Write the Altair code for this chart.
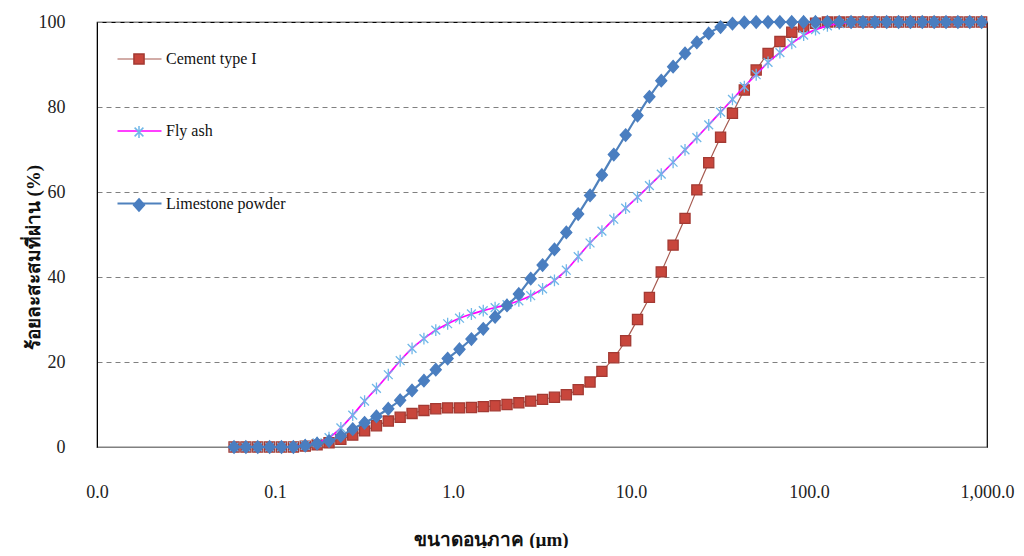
import altair as alt
import pandas as pd

# particle size grid (µm)
sizes_um = [0.05888, 0.06865, 0.08004, 0.09332, 0.1088, 0.1269, 0.1479, 0.1724,
            0.2011, 0.2344, 0.2733, 0.3186, 0.3715, 0.4331, 0.5050, 0.5888,
            0.6865, 0.8004, 0.9332, 1.088, 1.269, 1.479, 1.724, 2.011,
            2.344, 2.733, 3.186, 3.715, 4.331, 5.050, 5.888, 6.865,
            8.004, 9.332, 10.88, 12.69, 14.79, 17.24, 20.11, 23.44,
            27.33, 31.86, 37.15, 43.31, 50.50, 58.88, 68.65, 80.04,
            93.32, 108.8, 126.9, 147.9, 172.4, 201.1, 234.4, 273.3,
            318.6, 371.5, 433.1, 505.0, 588.8, 686.5, 800.4, 933.2]

cement = [0, 0, 0, 0, 0, 0, 0.2, 0.5,
          1.0, 1.8, 2.8, 3.8, 5.0, 6.1, 7.0, 7.9,
          8.6, 9.0, 9.2, 9.2, 9.3, 9.5, 9.7, 10.0,
          10.4, 10.8, 11.2, 11.7, 12.3, 13.5, 15.3, 17.8,
          21.0, 25.0, 30.0, 35.2, 41.2, 47.5, 53.8, 60.5,
          66.9, 72.9, 78.5, 84.0, 88.7, 92.6, 95.4, 97.6,
          98.9, 99.7, 100, 100, 100, 100, 100, 100,
          100, 100, 100, 100, 100, 100, 100, 100]

fly_ash = [0, 0, 0, 0, 0, 0.1, 0.4, 1.0,
           2.2, 4.5, 7.5, 10.8, 13.8, 17.0, 20.3, 23.2,
           25.5, 27.5, 29.0, 30.3, 31.3, 32.1, 32.8, 33.5,
           34.4, 35.6, 37.2, 39.2, 41.6, 44.8, 48.0, 50.8,
           53.6, 56.2, 58.8, 61.5, 64.2, 67.0, 69.9, 72.8,
           75.8, 78.8, 81.8, 84.8, 87.6, 90.5, 92.8, 95.0,
           96.9, 98.2, 99.1, 99.6, 99.9, 100, 100, 100,
           100, 100, 100, 100, 100, 100, 100, 100]

limestone = [0, 0, 0, 0, 0, 0, 0.3, 0.8,
             1.4, 2.6, 4.2, 5.7, 7.2, 9.0, 11.0, 13.3,
             15.6, 18.2, 20.8, 23.0, 25.4, 27.8, 30.6, 33.3,
             36.0, 39.6, 42.8, 46.5, 50.5, 54.8, 59.2, 64.0,
             68.8, 73.4, 78.0, 82.4, 86.2, 89.5, 92.6, 95.2,
             97.3, 98.8, 99.6, 99.9, 100, 100, 100, 100,
             100, 100, 100, 100, 100, 100, 100, 100,
             100, 100, 100, 100, 100, 100, 100, 100]

series_names = ["Cement type I", "Fly ash", "Limestone powder"]
marker_names = ["Cement type I ", "Fly ash ", "Limestone powder "]
x_ticks = [0.01, 0.1, 1, 10, 100, 1000]
y_ticks = [0, 20, 40, 60, 80, 100]

line_colors = ["#A65A50", "#FF00FF", "#4F81BD"]
line_widths = [1.2, 2.2, 3.2]
marker_fill = ["#C8463C", "#6FB7E8", "#4A7EC0"]
marker_stroke = ["#A33A33", "#6FB7E8", "#4A7EC0"]
marker_paths = [
    "M-0.23,-0.23H0.23V0.23H-0.23Z",
    "M-0.2,-0.2L0.2,0.2M-0.2,0.2L0.2,-0.2M0,-0.27L0,0.27",
    "M0,-0.28L0.25,0L0,0.28L-0.25,0Z",
]

rows = []
for name, mname, vals in zip(series_names, marker_names, [cement, fly_ash, limestone]):
    for d, v in zip(sizes_um, vals):
        rows.append({"size": d, "pct": v, "series": name, "marker": mname})
df = pd.DataFrame(rows)

SERIF = "Liberation Serif"
SYM = 1936
LX, LY, RP = 19, 14, 41

x_enc = alt.X("size:Q",
              scale=alt.Scale(type="log", domain=[0.01, 1000], nice=False),
              axis=alt.Axis(values=x_ticks, format=",.1f", title="ขนาดอนุภาค (µm)",
                            grid=False, ticks=False, labelPadding=36, labelFlush=False,
                            labelOverlap=False, domainColor="#808080",
                            labelFont=SERIF, labelFontSize=18, labelColor="#222",
                            titleFont=SERIF, titleFontSize=19, titleFontWeight="bold",
                            titleColor="#111", titleX=394, titleY=92,
                            titleBaseline="middle", titleAnchor="start", titleAlign="center"))
y_enc = alt.Y("pct:Q",
              scale=alt.Scale(domain=[0, 100], nice=False),
              axis=alt.Axis(values=y_ticks, title="ร้อยละสะสมที่ผ่าน (%)",
                            grid=True, gridDash=[5, 4], gridColor="#808080",
                            ticks=False, labelPadding=32, domainColor="#000",
                            labelFont=SERIF, labelFontSize=18, labelColor="#222",
                            titleFont=SERIF, titleFontSize=19, titleFontWeight="bold",
                            titleColor="#111", titleX=-64, titleY=235,
                            titleBaseline="middle", titleAnchor="start", titleAlign="center"))

line_legend = alt.Legend(title=None, orient="none", legendX=LX, legendY=LY,
                         symbolType="stroke", symbolSize=SYM, rowPadding=RP,
                         labelFont=SERIF, labelFontSize=16, labelColor="#111",
                         labelOffset=3, padding=0)
marker_legend = alt.Legend(title=None, orient="none", legendX=LX, legendY=LY,
                           symbolSize=SYM, rowPadding=RP,
                           labelFont=SERIF, labelFontSize=16, labelColor="transparent",
                           labelOffset=3, padding=0)

layers = []
for name, mname in zip(series_names, marker_names):
    base = alt.Chart(df).transform_filter(alt.datum.series == name)
    line = base.mark_line(interpolate="monotone").encode(
        x=x_enc, y=y_enc,
        color=alt.Color("series:N", scale=alt.Scale(domain=series_names, range=line_colors),
                        legend=line_legend),
        strokeWidth=alt.StrokeWidth("series:N",
                                    scale=alt.Scale(domain=series_names, range=line_widths),
                                    legend=line_legend),
    )
    pts = base.mark_point(filled=True, size=SYM, opacity=1, strokeWidth=1.3).encode(
        x=x_enc, y=y_enc,
        fill=alt.Fill("marker:N", scale=alt.Scale(domain=marker_names, range=marker_fill),
                      legend=marker_legend),
        stroke=alt.Stroke("marker:N", scale=alt.Scale(domain=marker_names, range=marker_stroke),
                          legend=marker_legend),
        shape=alt.Shape("marker:N", scale=alt.Scale(domain=marker_names, range=marker_paths),
                        legend=marker_legend),
    )
    layers += [line, pts]

chart = alt.layer(*layers).properties(
    width=890, height=425,
    autosize=alt.AutoSizeParams(type="none"),
    padding={"left": 89, "top": 14, "right": 29, "bottom": 101},
    background="white",
).configure_view(stroke="#000", strokeWidth=1.2)

chart.save("out.html", embed_options={"renderer": "svg", "actions": False})
